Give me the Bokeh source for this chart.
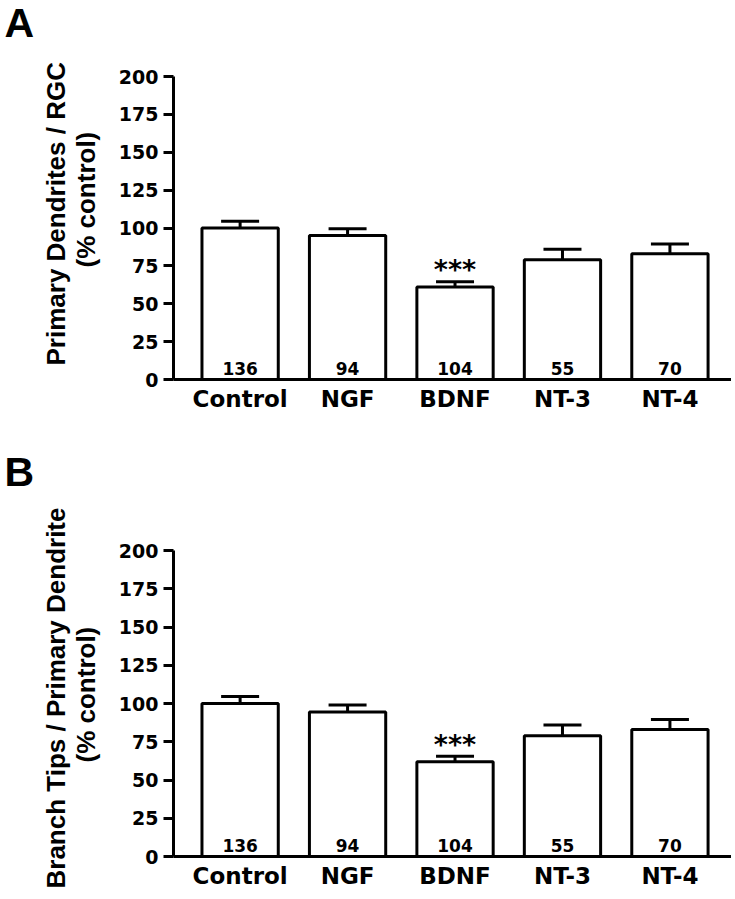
from bokeh.plotting import figure
from bokeh.models import Range1d, ColumnDataSource, FixedTicker, Whisker, TeeHead, Title
from bokeh.layouts import column
from bokeh.embed import file_html
from bokeh.resources import INLINE
from bokeh.core.properties import value

# ---------------- data ----------------
categories = ["Control", "NGF", "BDNF", "NT-3", "NT-4"]
n_cells = ["136", "94", "104", "55", "70"]
significance = ["", "", "***", "", ""]

a_values = [100, 95, 61, 79, 83]
a_errors = [4.5, 4.5, 3.5, 7.0, 6.5]

b_values = [100, 94.5, 62, 79, 83]
b_errors = [4.5, 4.5, 3.5, 7.0, 6.5]

y_ticks = [0, 25, 50, 75, 100, 125, 150, 175, 200]

panel_a_label = ["Primary Dendrites / RGC", "(% control)"]
panel_b_label = ["Branch Tips / Primary Dendrite", "(% control)"]

TICK_FONT = "DejaVu Sans"
LABEL_FONT = "Liberation Sans"
W = 731


def letter_strip(letter, height, standoff):
    """A thin strip whose title carries the panel letter (A / B)."""
    s = figure(width=W, height=height, output_backend="svg", toolbar_location=None,
               x_range=Range1d(0, 1), y_range=Range1d(0, 1),
               x_axis_location=None, y_axis_location=None,
               min_border_left=173, min_border_right=0,
               min_border_top=0, min_border_bottom=0)
    s.outline_line_color = None
    s.xgrid.visible = False
    s.ygrid.visible = False
    s.border_fill_color = "white"
    s.background_fill_color = "white"
    s.title.text = letter
    s.title.align = "left"
    s.title.offset = -169
    s.title.standoff = standoff
    s.title.text_font = LABEL_FONT
    s.title.text_font_style = "bold"
    s.title.text_font_size = "41px"
    s.title.text_color = "black"
    return s


def make_panel(values, errors, ylabel_lines, height, border_top, border_bottom,
               ylabel_offsets, ylabel_standoffs):
    xs = list(range(len(categories)))
    src = ColumnDataSource(dict(
        x=xs,
        top=values,
        upper=[v + e for v, e in zip(values, errors)],
        base=[0] * len(values),
        n=n_cells,
        sig=significance,
    ))

    p = figure(width=W, height=height, output_backend="svg", toolbar_location=None,
               x_range=Range1d(-0.62, 4.573), y_range=Range1d(0, 200),
               min_border_left=173, min_border_right=0,
               min_border_top=border_top, min_border_bottom=border_bottom)
    p.title.visible = False
    p.outline_line_color = None
    p.xgrid.visible = False
    p.ygrid.visible = False
    p.background_fill_color = "white"
    p.border_fill_color = "white"

    p.vbar(x="x", top="top", bottom=0, width=0.71, source=src,
           fill_color="white", line_color="black", line_width=3)

    w = Whisker(base="x", lower="top", upper="upper", source=src, dimension="height",
                line_color="black", line_width=3,
                upper_head=TeeHead(size=38, line_color="black", line_width=3),
                lower_head=None)
    p.add_layout(w)

    p.text(x="x", y="base", text="n", source=src, text_align="center",
           text_baseline="alphabetic", y_offset=-11,
           text_font=value(TICK_FONT), text_font_style="bold",
           text_font_size="17px", text_color="black")

    p.text(x="x", y="upper", text="sig", source=src, text_align="center",
           text_baseline="middle", y_offset=-12,
           text_font=value(TICK_FONT), text_font_style="bold",
           text_font_size="27px", text_color="black")

    # y axis
    ya = p.yaxis[0]
    ya.ticker = FixedTicker(ticks=y_ticks)
    ya.minor_tick_line_color = None
    ya.major_tick_in = 0
    ya.major_tick_out = 10
    ya.major_tick_line_width = 3
    ya.axis_line_width = 3
    ya.major_label_standoff = 5
    ya.major_label_text_font = TICK_FONT
    ya.major_label_text_font_style = "bold"
    ya.major_label_text_font_size = "19px"
    ya.major_label_text_color = "black"

    # x axis
    xa = p.xaxis[0]
    xa.ticker = FixedTicker(ticks=list(range(len(categories))))
    xa.major_label_overrides = {i: c for i, c in enumerate(categories)}
    xa.minor_tick_line_color = None
    xa.major_tick_line_color = None
    xa.major_tick_in = 0
    xa.major_tick_out = 0
    xa.axis_line_width = 3
    xa.major_label_standoff = 6
    xa.major_label_text_font = TICK_FONT
    xa.major_label_text_font_style = "bold"
    xa.major_label_text_font_size = "23px"
    xa.major_label_text_color = "black"

    # y-axis title: inner line first, then outer line
    for line, off, so in zip(reversed(ylabel_lines), reversed(ylabel_offsets),
                             reversed(ylabel_standoffs)):
        p.add_layout(Title(text=line, align="left", offset=off, standoff=so,
                           text_font=LABEL_FONT, text_font_style="bold",
                           text_font_size="26px", text_color="black"), "left")
    return p


la = letter_strip("A", 44, -6)
pa = make_panel(a_values, a_errors, panel_a_label, height=405,
                border_top=32, border_bottom=70,
                ylabel_offsets=[14, 112], ylabel_standoffs=[-32, 29])
lb = letter_strip("B", 44, -6)
pb = make_panel(b_values, b_errors, panel_b_label, height=404,
                border_top=57, border_bottom=41,
                ylabel_offsets=[-32, 94], ylabel_standoffs=[-32, 29])

layout = column(la, pa, lb, pb, spacing=0)
open("out.html", "w").write(file_html(layout, INLINE))
